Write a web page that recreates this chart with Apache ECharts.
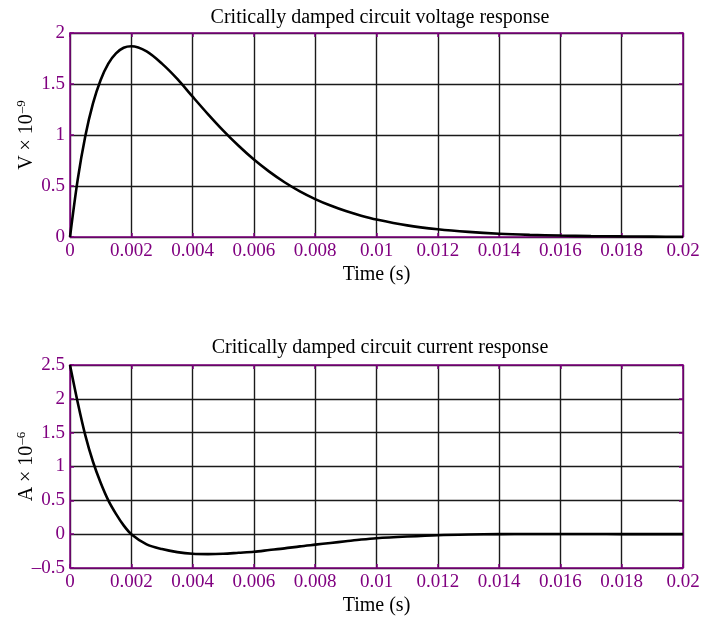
<!DOCTYPE html>
<html>
<head>
<meta charset="utf-8">
<script src="https://cdn.jsdelivr.net/npm/echarts@6/dist/echarts.min.js"></script>
<style>html,body{margin:0;padding:0;background:#fff}#c{width:707px;height:617px}</style>
</head>
<body>
<div id="c"></div>
<script>
var timeS = [0,0.00025,0.0005,0.00075,0.001,0.00125,0.0015,0.00175,0.002,
  0.0025,0.003,0.0035,0.004,0.0045,0.005,0.0055,0.006,0.0065,0.007,0.0075,0.008,0.0085,0.009,0.0095,0.01,
  0.011,0.012,0.013,0.014,0.015,0.016,0.017,0.018,0.019,0.02];
var voltage = [0,0.56,0.99,1.31,1.54,1.70,1.80,1.855,1.87,
  1.82,1.70,1.55,1.376,1.205,1.043,0.894,0.759,0.641,0.537,0.448,0.372,0.308,0.254,0.209,0.171,
  0.114,0.076,0.050,0.032,0.021,0.014,0.009,0.006,0.004,0.002];
var current = [2.5,1.95,1.46,1.07,0.76,0.50,0.30,0.13,0.0,
  -0.15,-0.22,-0.265,-0.29,-0.295,-0.29,-0.275,-0.26,-0.235,-0.21,-0.18,-0.155,-0.13,-0.105,-0.08,-0.06,
  -0.035,-0.015,-0.005,0.0,0.003,0.003,0.002,0.001,0.0005,0.0];
var titles = ['Critically damped circuit voltage response','Critically damped circuit current response'];
var xName = 'Time (s)';

var FONT = 'Liberation Serif';
var PURPLE = '#800080';
var GRIDC = '#1a1a1a';

function pair(a, b) { return a.map(function (v, i) { return [v, b[i]]; }); }
function fmt(v) { var s = String(+v.toFixed(4)); return s.replace('-', '\u2013'); }

function xAxes(gi) {
  return [
    { gridIndex: gi, type: 'value', min: 0, max: 0.02, interval: 0.002, position: 'bottom',
      name: xName, nameLocation: 'middle', nameGap: 28,
      nameTextStyle: { fontFamily: FONT, fontSize: 20, color: '#000' },
      axisLine: { show: true, onZero: false, lineStyle: { color: PURPLE, width: 1.5 } },
      axisTick: { show: true, inside: true, length: 4, lineStyle: { color: PURPLE, width: 1.5 } },
      axisLabel: { fontFamily: FONT, fontSize: 19, color: PURPLE, margin: 5, formatter: fmt },
      splitLine: { show: true, lineStyle: { color: GRIDC, width: 1.4 } } },
    { gridIndex: gi, type: 'value', min: 0, max: 0.02, interval: 0.002, position: 'top',
      axisLine: { show: true, onZero: false, lineStyle: { color: PURPLE, width: 1.5 } },
      axisTick: { show: true, inside: true, length: 4, lineStyle: { color: PURPLE, width: 1.5 } },
      axisLabel: { show: false }, splitLine: { show: false } }
  ];
}
function yAxes(gi, mn, mx, nameA, nameB, gap) {
  return [
    { gridIndex: gi, type: 'value', min: mn, max: mx, interval: 0.5, position: 'left',
      name: '{a|' + nameA + '}{b|' + nameB + '}', nameLocation: 'middle', nameGap: gap, nameRotate: 90,
      nameMoveOverlap: false,
      nameTextStyle: { fontFamily: FONT, color: '#000',
        rich: { a: { fontFamily: FONT, fontSize: 20, color: '#000' },
                b: { fontFamily: FONT, fontSize: 13, color: '#000', padding: [0, 0, 10, 1] } } },
      axisLine: { show: true, onZero: false, lineStyle: { color: PURPLE, width: 1.5 } },
      axisTick: { show: true, inside: true, length: 4, lineStyle: { color: PURPLE, width: 1.5 } },
      axisLabel: { fontFamily: FONT, fontSize: 19, color: PURPLE, margin: 5, formatter: fmt },
      splitLine: { show: true, lineStyle: { color: GRIDC, width: 1.4 } } },
    { gridIndex: gi, type: 'value', min: mn, max: mx, interval: 0.5, position: 'right',
      axisLine: { show: true, onZero: false, lineStyle: { color: PURPLE, width: 1.5 } },
      axisTick: { show: true, inside: true, length: 4, lineStyle: { color: PURPLE, width: 1.5 } },
      axisLabel: { show: false }, splitLine: { show: false } }
  ];
}

var chart = echarts.init(document.getElementById('c'), null, { renderer: 'canvas' });
chart.setOption({
  animation: false,
  backgroundColor: '#fff',
  title: [
    { text: titles[0], left: 375, top: 3, textAlign: 'center',
      textStyle: { fontFamily: FONT, fontSize: 20, fontWeight: 'normal', color: '#000' } },
    { text: titles[1], left: 375, top: 333, textAlign: 'center',
      textStyle: { fontFamily: FONT, fontSize: 20, fontWeight: 'normal', color: '#000' } }
  ],
  grid: [
    { left: 70, right: 24, top: 33, height: 204, containLabel: false, outerBoundsMode: 'none' },
    { left: 70, right: 24, top: 365, height: 203, containLabel: false, outerBoundsMode: 'none' }
  ],
  xAxis: xAxes(0).concat(xAxes(1)),
  yAxis: yAxes(0, 0, 2, 'V \u00d7 10', '\u20139', 32).concat(yAxes(1, -0.5, 2.5, 'A \u00d7 10', '\u20136', 32)),
  series: [
    { type: 'line', xAxisIndex: 0, yAxisIndex: 0, data: pair(timeS, voltage), showSymbol: false,
      smooth: 0.3, lineStyle: { color: '#000', width: 2.6 }, z: 5 },
    { type: 'line', xAxisIndex: 2, yAxisIndex: 2, data: pair(timeS, current), showSymbol: false,
      smooth: 0.3, lineStyle: { color: '#000', width: 2.6 }, z: 5 }
  ]
});
</script>
</body>
</html>
